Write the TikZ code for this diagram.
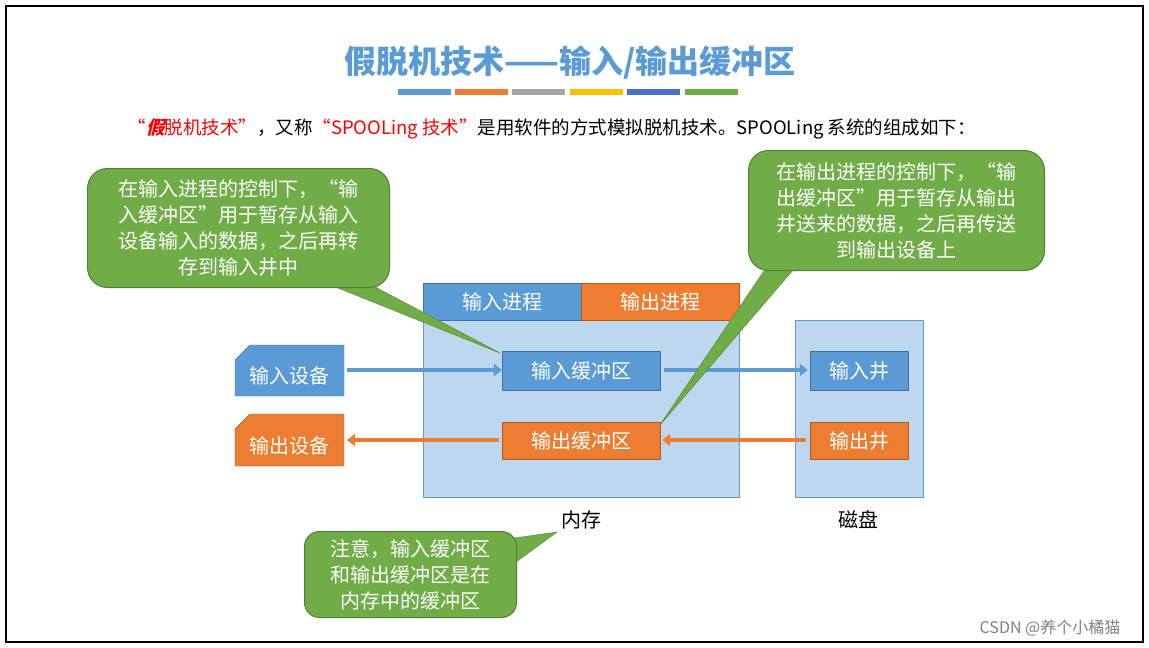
\documentclass[tikz,border=0pt]{standalone}
\usepackage{fontspec}
\setmainfont{Noto Sans CJK SC}
\usetikzlibrary{arrows.meta}
\definecolor{cblue}{HTML}{5B9BD5}
\definecolor{corange}{HTML}{ED7D31}
\definecolor{cgreen}{HTML}{70AD47}
\definecolor{cgreend}{HTML}{507E32}
\definecolor{clight}{HTML}{BDD7EE}
\definecolor{cbord}{HTML}{41719C}
\definecolor{cbordo}{HTML}{AE5A21}
\definecolor{cgray}{HTML}{A5A5A5}
\definecolor{cyel}{HTML}{FFC000}
\definecolor{cdblue}{HTML}{4472C4}
\tikzset{
 bl/.style={fill=cblue,draw=cbord,text=white,font=\fontsize{20}{22}\selectfont,inner sep=0pt},
 og/.style={fill=corange,draw=cbordo,text=white,font=\fontsize{20}{22}\selectfont,inner sep=0pt},
 callout/.style={fill=cgreen,draw=cgreend,line width=1pt},
 ctext/.style={text=white,font=\fontsize{20}{26}\selectfont,align=center},
 barr/.style={line width=4pt,-{Triangle[length=8pt,width=12pt]}},
}
\begin{document}
\begin{tikzpicture}[x=1pt,y=-1pt]
\useasboundingbox (0,0) rectangle (1149,648);
\draw[line width=1.5pt] (6,6) rectangle (1143,642);
\node (title) at (570,63) {\fontsize{32}{34}\selectfont\color{cblue}\textbf{假脱机技术——输入/输出缓冲区}};
\foreach \x/\c in {398/cblue,455/corange,512/cgray,570/cyel,627/cdblue,685/cgreen}
  \fill[\c] (\x,89) rectangle ++(53,6);
\node[anchor=west,font=\fontsize{18.5}{20}\selectfont] (sub) at (124,129) {{\color{red}“{\addfontfeature{FakeSlant=0.25}\bfseries 假}脱机技术”}，又称{\color{red}“SPOOLing 技术”}是用软件的方式模拟脱机技术。SPOOLing 系统的组成如下：};
% memory
\draw[fill=clight,draw=cblue] (423,283) rectangle (739,497);
\node[bl,minimum width=158pt,minimum height=37pt,anchor=north west] (inp) at (423,283) {输入进程};
\node[og,minimum width=158pt,minimum height=37pt,anchor=north west] (outp) at (581,283) {输出进程};
\node[bl,minimum width=158pt,minimum height=39pt] (ib) at (581,370.5) {输入缓冲区};
\node[og,minimum width=158pt,minimum height=37pt] (ob) at (581,440.5) {输出缓冲区};
\node[font=\fontsize{20}{22}\selectfont] (mem) at (581,520) {内存};
% disk
\draw[fill=clight,draw=cblue] (795,320) rectangle (923,497);
\node[bl,minimum width=98pt,minimum height=39pt] (iw) at (859,370.5) {输入井};
\node[og,minimum width=98pt,minimum height=37pt] (ow) at (859,440.5) {输出井};
\node[font=\fontsize{20}{22}\selectfont] (disk) at (858,520) {磁盘};
% devices
\draw[fill=cblue,draw=cbord] (235,360) -- (250,345) -- (344,345) -- (344,396) -- (235,396) -- cycle;
\node[text=white,font=\fontsize{20}{22}\selectfont] (id) at (289,376) {输入设备};
\draw[fill=corange,draw=cbordo] (235,429) -- (250,414) -- (344,414) -- (344,466) -- (235,466) -- cycle;
\node[text=white,font=\fontsize{20}{22}\selectfont] (od) at (289,446) {输出设备};
\coordinate (idE) at (347,370); \coordinate (odE) at (347,440);
% arrows
\draw[barr,cblue] (idE) -- (ib.west|-idE);
\draw[barr,cblue] (ib.east|-idE) ++(4,0) -- ([xshift=-2pt]iw.west|-idE);
\draw[barr,corange] ([xshift=-4pt]ow.west|-odE) -- ([xshift=2pt]ob.east|-odE);
\draw[barr,corange] ([xshift=-3pt]ob.west|-odE) -- (odE);
% callout 1
\coordinate (p1) at (500,353);
\fill[cgreen,draw=cgreend] (318,280) -- (p1) -- (362,280) -- cycle;
\node[callout,rounded corners=20pt,minimum width=302pt,minimum height=119pt,anchor=north west,ctext] (c1) at (87,168) {在输入进程的控制下，“输\\入缓冲区”用于暂存从输入\\设备输入的数据，之后再转\\存到输入井中};
% callout 2
\coordinate (p2) at (660,425);
\fill[cgreen,draw=cgreend] (770,262) -- (p2) -- (800,262) -- cycle;
\node[callout,rounded corners=20pt,minimum width=296pt,minimum height=120pt,anchor=north west,ctext] (c2) at (748,150) {在输出进程的控制下，“输\\出缓冲区”用于暂存从输出\\井送来的数据，之后再传送\\到输出设备上};
% callout 3
\coordinate (p3) at (557,532);
\fill[cgreen,draw=cgreend] (500,540) -- (p3) -- (512,565) -- cycle;
\node[callout,rounded corners=15pt,minimum width=212pt,minimum height=86pt,anchor=north west,ctext] (c3) at (304,531) {注意，输入缓冲区\\和输出缓冲区是在\\内存中的缓冲区};
\node[text=gray,font=\fontsize{16}{18}\selectfont] (wm) at (1050,628) {CSDN @养个小橘猫};
\end{tikzpicture}
\end{document}
